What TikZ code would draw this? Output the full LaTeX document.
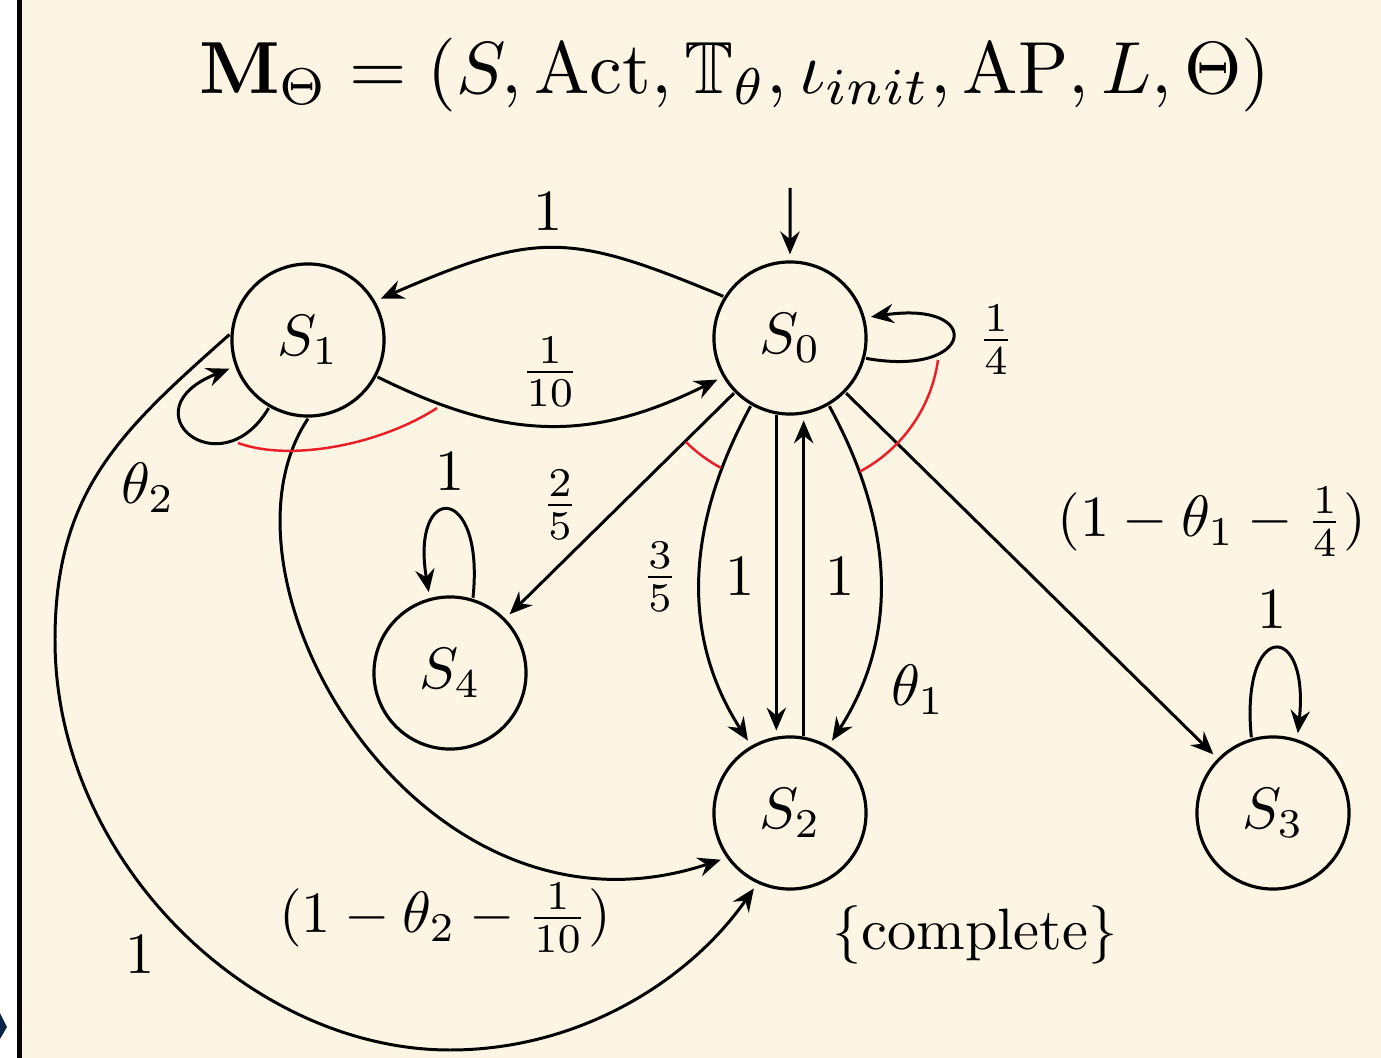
\documentclass[tikz,border=0pt]{standalone}
\usepackage{amssymb}
\usetikzlibrary{arrows.meta}

\definecolor{cream}{RGB}{253,245,227}
\definecolor{navy}{RGB}{12,35,72}
\definecolor{grpred}{RGB}{235,30,40}

\tikzset{
  state/.style={circle, draw, line width=0.9pt, minimum size=0.9157cm, inner sep=0pt, scale=1.66},
  lbl/.style={inner sep=0pt, scale=1.66},
  arr/.style={->, shorten >=0.05cm},
  grp/.style={grpred, line width=0.7pt}
}

\begin{document}
\begin{tikzpicture}[x=0.01cm, y=-0.01cm, line width=0.85pt,
  >={Stealth[length=6.5pt,width=5.5pt,inset=2.2pt]}]

% Background
\fill[white] (0,0) rectangle (1381,1058);
\fill[cream] (20,0) rectangle (1381,1058);
\fill[black] (17,0) rectangle (22,1058);
\fill[navy] (0,1013) -- (7,1027) -- (0,1039) -- cycle;
\useasboundingbox (0,0) rectangle (1381,1058);

% Title
\node[inner sep=0pt, scale=2.1] (title) at (735,75)
  {$\mathbf{M}_{\Theta} = (S, \mathrm{Act}, \mathbb{T}_{\theta}, \iota_{init}, \mathrm{AP}, L, \Theta)$};

% Define states
\node[state] (S0) at (790,338) {$S_0$};
\node[state] (S1) at (308,340) {$S_1$};
\node[state] (S2) at (790,813) {$S_2$};
\node[state] (S3) at (1273,813) {$S_3$};
\node[state] (S4) at (450,673) {$S_4$};
\coordinate (init) at (790,188); % start of the initial arrow

% Initial arrow
\draw[arr] (init) -- (S0);

% Transitions of S0
\draw[arr] (S0.148) .. controls (569,232) and (537,231) .. (S1.30);
\draw[arr] (S0.-15) .. controls (975,378) and (985,300) .. (S0.15);
\draw[arr] (S0) -- (S4);
\draw[arr] (S0.240) .. controls (683,530) and (683,640) .. (S2.120);
\draw[arr] (S0.260) -- (S2.100);
\draw[arr] (S0.300) .. controls (897,530) and (897,640) .. (S2.60);
\draw[arr] (S0) -- (S3);

% Transitions of S1
\draw[arr] (S1.-28) .. controls (505,440) and (590,443) .. (S0.210);
\draw[arr] (S1.240) .. controls (220,490) and (125,410) .. (S1.200);
\draw[arr] (S1.270) .. controls (200,580) and (420,960) .. (S2.215);
\draw[arr] (S1.176) .. controls (122,430) and (55,490) .. (55,640)
  .. controls (55,860) and (250,1050) .. (450,1050)
  .. controls (580,1050) and (690,980) .. (S2.245);

% Other transitions
\draw[arr] (S2.80) -- (S0.280);
\draw[arr] (S3.106) .. controls (1240,620) and (1310,620) .. (S3.72);
\draw[arr] (S4.73) .. controls (485,482) and (410,482) .. (S4.105);

% Red arcs grouping one action
\draw[grp] (238,443) .. controls (290,462) and (380,445) .. (437,408);
\draw[grp] (686,442) arc[start angle=135, end angle=118, radius=147];
\draw[grp] (938,360) arc[start angle=8, end angle=62, radius=150];

% Probabilities
\node[lbl] (p01) at (548,212) {$1$};
\node[lbl] (p10) at (550,372) {$\frac{1}{10}$};
\node[lbl] (p00) at (996,340) {$\frac{1}{4}$};
\node[lbl] (p11) at (148,488) {$\theta_2$};
\node[lbl] (p44) at (450,472) {$1$};
\node[lbl] (p04) at (560,505) {$\frac{2}{5}$};
\node[lbl] (p02a) at (660,577) {$\frac{3}{5}$};
\node[lbl] (p02b) at (740,577) {$1$};
\node[lbl] (p20) at (840,577) {$1$};
\node[lbl] (p02c) at (918,690) {$\theta_1$};
\node[lbl] (p03) at (1212,522) {$(1-\theta_1-\frac{1}{4})$};
\node[lbl] (p33) at (1272,610) {$1$};
\node[lbl] (p12a) at (445,918) {$(1-\theta_2-\frac{1}{10})$};
\node[lbl] (p12b) at (140,955) {$1$};

% Label of S2
\node[lbl] (ap2) at (975,935) {$\{$complete$\}$};

\end{tikzpicture}
\end{document}
